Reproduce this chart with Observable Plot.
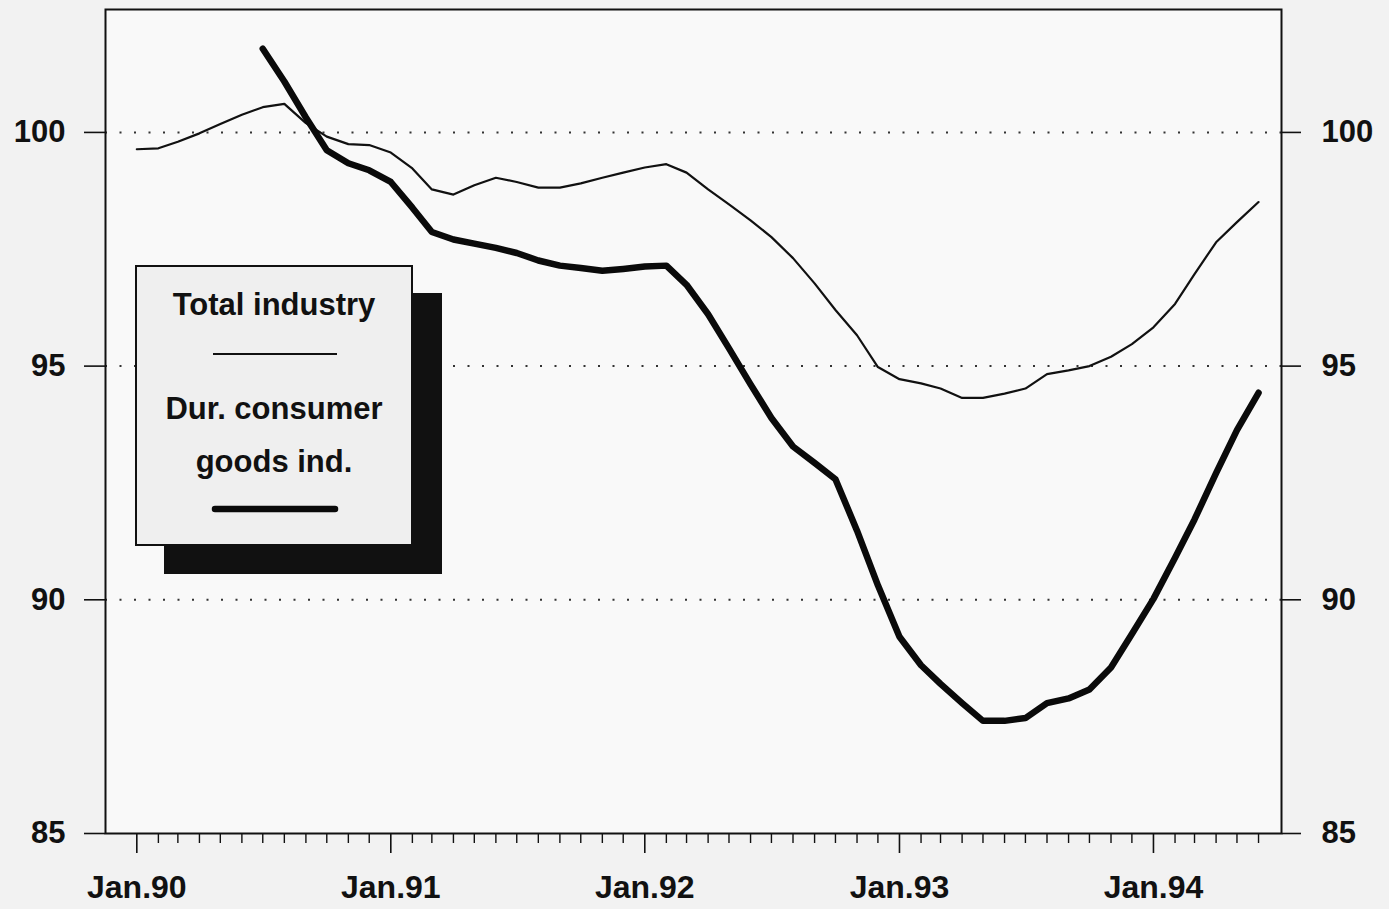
<!DOCTYPE html>
<html>
<head>
<meta charset="utf-8">
<script src="https://cdn.jsdelivr.net/npm/d3@7"></script>
<script src="https://cdn.jsdelivr.net/npm/@observablehq/plot@0.6"></script>
<style>
  html, body { margin: 0; padding: 0; background: #f2f2f2; }
  #wrap { position: relative; width: 1389px; height: 909px; overflow: hidden; }
  #legend { position: absolute; left: 0; top: 0; }
  text { font-family: "Liberation Sans", Arial, sans-serif; }
</style>
</head>
<body>
<div id="wrap"></div>
<script>
// ---- data (monthly index) ----
const totalStart = "1990-01";
const totalIndustry = [
  99.64, 99.66, 99.80, 99.98, 100.18, 100.38, 100.54, 100.61, 100.20, 99.91, 99.75, 99.73,   // 1990
  99.57, 99.23, 98.78, 98.67, 98.87, 99.03, 98.94, 98.82, 98.82, 98.91, 99.03, 99.14,        // 1991
  99.25, 99.32, 99.14, 98.78, 98.46, 98.12, 97.76, 97.31, 96.77, 96.20, 95.66, 94.98,        // 1992
  94.72, 94.63, 94.52, 94.32, 94.32, 94.41, 94.52, 94.83, 94.91, 95.00, 95.20, 95.47,        // 1993
  95.83, 96.33, 96.97, 97.65, 98.08, 98.51                                                    // 1994
];
const durableStart = "1990-07";
const durableGoods = [
  101.79, 101.09, 100.32, 99.62, 99.34, 99.19,                                              // 1990 (Jul-Dec)
  98.94, 98.39, 97.87, 97.71, 97.62, 97.53, 97.42, 97.26, 97.15, 97.10, 97.04, 97.08,       // 1991
  97.13, 97.15, 96.74, 96.11, 95.38, 94.61, 93.89, 93.28, 92.93, 92.58, 91.48, 90.31,       // 1992
  89.21, 88.60, 88.20, 87.79, 87.41, 87.41, 87.47, 87.79, 87.89, 88.08, 88.55, 89.27,       // 1993
  90.02, 90.90, 91.72, 92.71, 93.63, 94.43                                                  // 1994
];
const yTicks = [85, 90, 95, 100];
const gridValues = [90, 95, 100];
const yearTicks = ["1990-01", "1991-01", "1992-01", "1993-01", "1994-01"];
const yearLabels = ["Jan.90", "Jan.91", "Jan.92", "Jan.93", "Jan.94"];
const monthTickRange = ["1990-01", "1994-07"];
const legendLabels = ["Total industry", "Dur. consumer", "goods ind."];

// ---- build tables ----
const parse = s => new Date(s + "-01T00:00:00Z");
const seriesRows = (start, values, name) => {
  const dates = d3.utcMonth.range(parse(start), d3.utcMonth.offset(parse(start), values.length));
  return values.map((v, i) => ({date: dates[i], value: v, series: name}));
};
const totalRows = seriesRows(totalStart, totalIndustry, "total");
const durableRows = seriesRows(durableStart, durableGoods, "durable");
const janDates = yearTicks.map(parse);
const labelOf = new Map(janDates.map((d, i) => [+d, yearLabels[i]]));
const minorDates = d3.utcMonth.range(parse(monthTickRange[0]), parse(monthTickRange[1]))
  .filter(d => d.getUTCMonth() !== 0);

const chart = Plot.plot({
  width: 1389,
  height: 909,
  marginLeft: 105,
  marginRight: 108,
  marginTop: 9,
  marginBottom: 76,
  style: {background: "transparent", fontFamily: "'Liberation Sans', Arial, sans-serif", fontSize: "31px", fontWeight: "bold", color: "#111"},
  x: {type: "utc", domain: [new Date(Date.UTC(1989, 10, 17)), new Date(Date.UTC(1994, 6, 4))], label: null},
  y: {domain: [85, 102.63], label: null},
  marks: [
    Plot.frame({fill: "#f9f9f9", stroke: null}),
    Plot.ruleY(gridValues, {stroke: "#333", strokeWidth: 2, strokeDasharray: "2,12.5"}),
    Plot.line(totalRows, {x: "date", y: "value", stroke: "#111", strokeWidth: 2.2, curve: "linear"}),
    Plot.line(durableRows, {x: "date", y: "value", stroke: "#0a0a0a", strokeWidth: 6.5, strokeLinecap: "round", strokeLinejoin: "round"}),
    Plot.axisY(yTicks, {anchor: "left", label: null, tickSize: 21, tickPadding: 19, strokeWidth: 1.6, fontSize: 31}),
    Plot.axisY(yTicks, {anchor: "right", label: null, tickSize: 19, tickPadding: 21, strokeWidth: 1.6, fontSize: 31}),
    Plot.axisX(minorDates, {anchor: "bottom", label: null, tickSize: 10, strokeWidth: 1.4, tickFormat: () => ""}),
    Plot.axisX(janDates, {anchor: "bottom", label: null, tickSize: 20, tickPadding: 22, strokeWidth: 1.6, fontSize: 32, tickFormat: d => labelOf.get(+d)}),
    Plot.frame({stroke: "#111", strokeWidth: 2})
  ]
});
document.getElementById("wrap").appendChild(chart);

// ---- legend box (overlay) ----
const lg = d3.select("#wrap").append("svg")
  .attr("id", "legend").attr("width", 1389).attr("height", 909);
lg.append("rect").attr("x", 164).attr("y", 293).attr("width", 278).attr("height", 281).attr("fill", "#111");
lg.append("rect").attr("x", 136).attr("y", 266).attr("width", 276).attr("height", 279)
  .attr("fill", "#efefef").attr("stroke", "#111").attr("stroke-width", 2);
const lt = (txt, y) => lg.append("text").attr("x", 274).attr("y", y).attr("text-anchor", "middle")
  .attr("font-size", 31).attr("font-weight", "bold").attr("fill", "#111").text(txt);
lt(legendLabels[0], 315);
lt(legendLabels[1], 419);
lt(legendLabels[2], 472);
lg.append("line").attr("x1", 213).attr("x2", 337).attr("y1", 354).attr("y2", 354)
  .attr("stroke", "#111").attr("stroke-width", 2.2);
lg.append("line").attr("x1", 215).attr("x2", 335).attr("y1", 509).attr("y2", 509)
  .attr("stroke", "#0a0a0a").attr("stroke-width", 6.5).attr("stroke-linecap", "round");
</script>
</body>
</html>
